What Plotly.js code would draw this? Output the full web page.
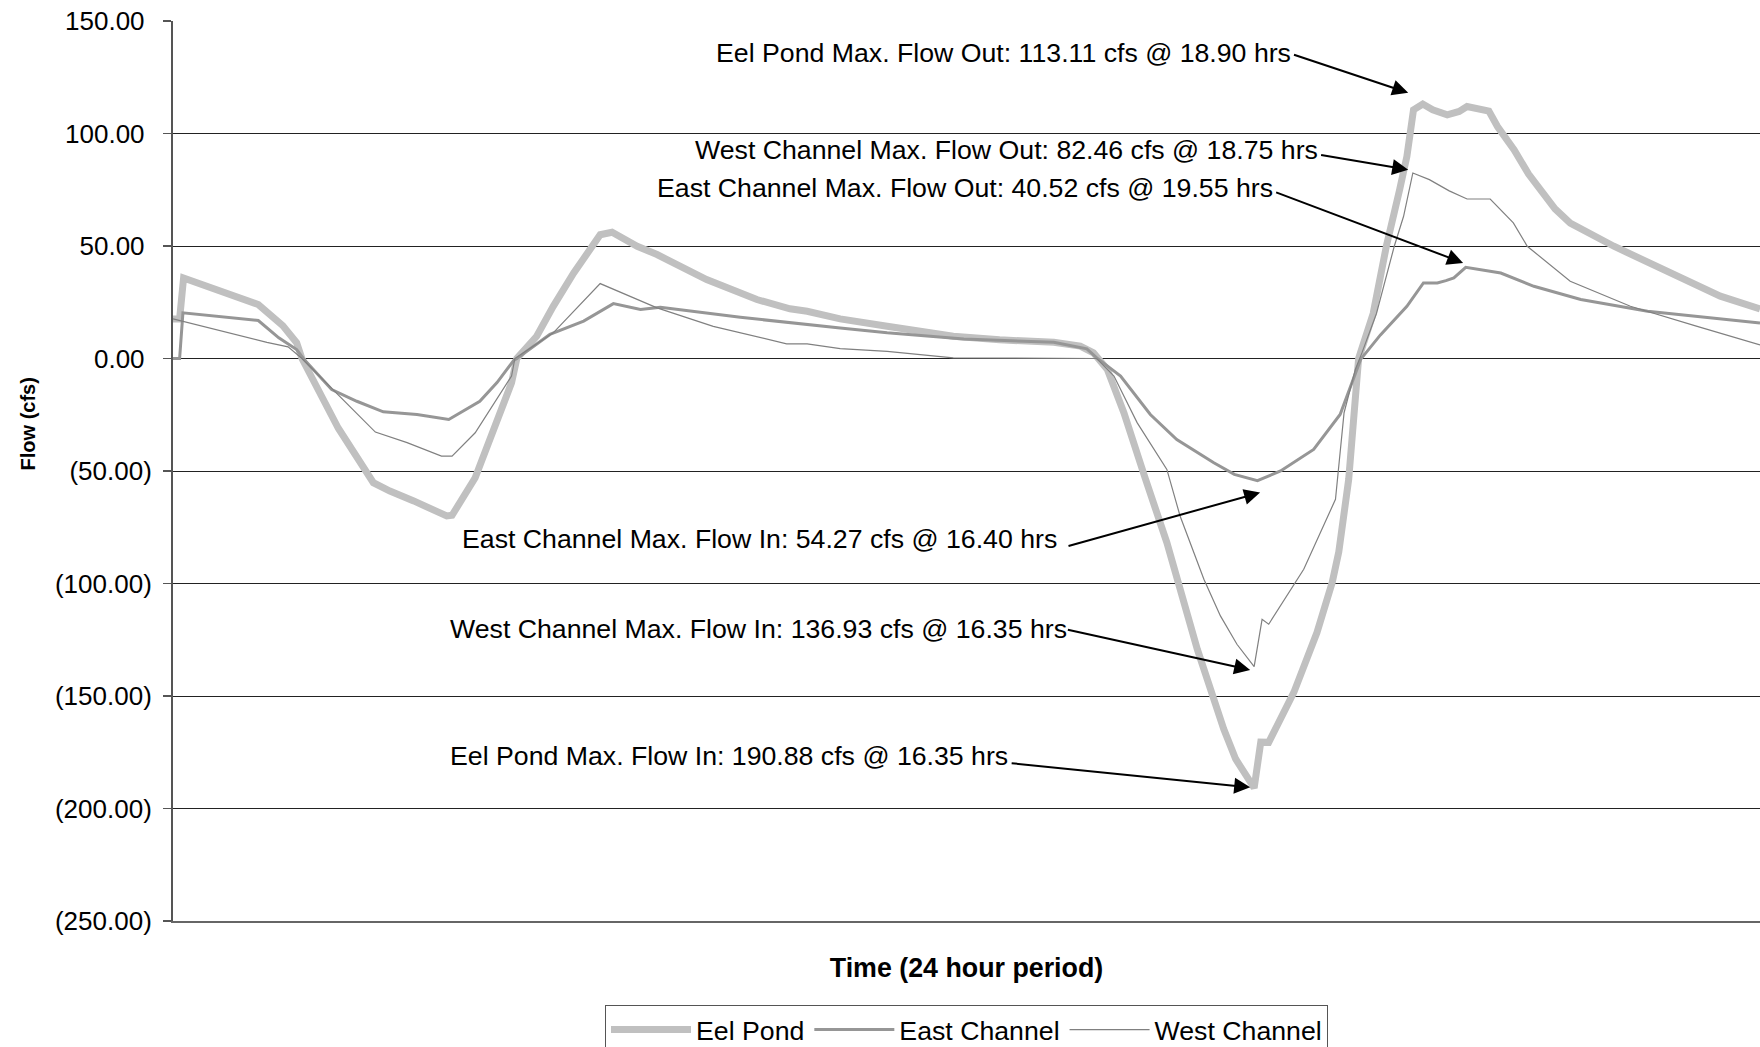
<!DOCTYPE html>
<html>
<head>
<meta charset="utf-8">
<script src="https://cdn.plot.ly/plotly-3.0.1.min.js"></script>
<style>html,body{margin:0;padding:0;background:#fff;}#chart{width:1760px;height:1047px;}</style>
</head>
<body>
<div id="chart"></div>
<script>
// ---- Data (time in hours, flow in cfs) ----
const eelTime = [0.00,0.10,0.16,0.66,1.29,1.66,1.87,1.95,2.50,3.03,3.28,3.64,4.14,4.22,4.57,5.12,5.20,5.50,5.75,6.06,6.46,6.64,7.02,7.32,8.07,8.83,9.33,9.59,10.09,10.80,11.80,12.50,13.32,13.72,13.92,14.13,14.38,14.70,15.03,15.49,15.89,16.07,16.35,16.45,16.57,16.95,17.30,17.53,17.63,17.78,17.88,17.93,18.15,18.35,18.55,18.66,18.76,18.90,19.05,19.27,19.45,19.57,19.90,20.03,20.28,20.50,20.90,21.13,21.79,22.80,23.40,24.00];
const eelFlow = [17.6,17.6,35.8,30.6,24.0,14.6,7.0,0.0,-31.0,-55.2,-58.9,-63.3,-70.0,-69.7,-53.0,-10.8,0.0,9.9,23.2,38.0,55.0,56.1,49.9,46.2,35.1,26.2,22.1,21.0,17.6,14.3,9.9,8.3,7.2,5.5,2.5,-4.9,-24.1,-53.0,-81.8,-129.2,-164.7,-178.0,-190.88,-170.5,-170.6,-148.4,-121.8,-99.6,-86.0,-53.7,-16.7,0.0,20.0,50.0,75.0,89.8,110.5,113.11,110.5,108.3,109.8,112.0,110.0,103.1,92.8,82.0,66.5,60.2,49.9,36.5,27.7,22.0];

const eastTime = [0.00,0.10,0.15,1.29,1.60,1.87,1.97,2.40,2.78,3.18,3.69,4.17,4.64,4.90,5.15,5.20,5.70,6.21,6.66,7.07,7.37,8.58,10.09,10.80,11.96,13.32,13.82,13.97,14.33,14.78,15.18,15.74,16.05,16.40,16.75,17.25,17.65,17.96,18.26,18.66,18.91,19.12,19.25,19.37,19.55,20.08,20.58,21.29,22.30,24.00];
const eastFlow = [0.0,0.0,20.3,16.9,9.2,4.0,0.0,-13.8,-19.0,-23.7,-24.9,-27.1,-19.0,-10.7,-0.9,0.0,10.7,16.6,24.4,21.8,22.8,18.3,13.6,11.4,8.7,7.2,4.3,0.3,-7.8,-24.9,-36.0,-46.3,-51.5,-54.27,-50.0,-40.4,-24.9,-0.4,10.5,23.2,33.6,33.6,34.6,35.8,40.52,38.0,32.1,26.2,21.0,15.8];

const westTime = [0.00,1.42,1.74,1.95,3.06,3.54,4.06,4.22,4.57,5.12,5.17,5.75,6.46,7.32,8.17,9.28,9.59,10.09,10.80,11.80,13.97,14.23,14.58,15.03,15.23,15.59,15.84,16.09,16.35,16.47,16.57,17.10,17.58,17.71,17.88,17.98,18.20,18.33,18.47,18.61,18.75,19.00,19.30,19.57,19.92,20.27,20.48,21.13,22.04,23.05,24.00];
const westFlow = [17.6,7.2,5.2,0.0,-32.7,-37.4,-43.4,-43.4,-33.0,-7.8,0.0,11.4,33.3,22.5,14.3,6.5,6.5,4.4,3.2,0.3,0.0,-7.8,-28.5,-49.3,-70.0,-98.1,-114.4,-127.0,-136.93,-115.9,-118.1,-93.7,-62.6,-24.1,-4.9,2.5,20.0,35.0,50.0,63.2,82.46,79.5,74.5,70.9,70.9,60.3,49.9,34.3,23.2,14.3,6.0];

const seriesNames = ["Eel Pond","East Channel","West Channel"];

// Y-axis tick values and labels (accounting style)
const yTickVals = [150,100,50,0,-50,-100,-150,-200,-250];
const yTickText = ["150.00\u00a0","100.00\u00a0","50.00\u00a0","0.00\u00a0","(50.00)","(100.00)","(150.00)","(200.00)","(250.00)"];

// Peak annotations (values quoted in the chart)
const annSeries = ["Eel Pond","West Channel","East Channel","East Channel","West Channel","Eel Pond"];
const annKind   = ["Out","Out","Out","In","In","In"];
const annFlow   = [113.11,82.46,40.52,54.27,136.93,190.88];
const annHours  = [18.90,18.75,19.55,16.40,16.35,16.35];

// Annotation layout positions (data units)
const annTextX  = [16.93,17.34,16.66,13.40,13.55,12.66];
const annTextY  = [135.8,92.6,75.6,-80.4,-120.4,-176.5];
const arrowFromX = [16.93,17.34,16.66,13.52,13.51,12.66];
const arrowFromY = [135.2,90.6,74.1,-83.5,-120.4,-179.8];
const arrowToX   = [18.68,18.68,19.51,16.44,16.29,16.29];
const arrowToY   = [118.1,83.9,42.5,-59.6,-138.4,-190.6];

const FONT = "Liberation Sans, Arial, Helvetica, sans-serif";
const TXT = 26.7;

const traces = [
  {x: eelTime, y: eelFlow, name: seriesNames[0], type: "scatter", mode: "lines",
   line: {color: "#c0c0c0", width: 7, shape: "linear"}},
  {x: eastTime, y: eastFlow, name: seriesNames[1], type: "scatter", mode: "lines",
   line: {color: "#969696", width: 3, shape: "linear"}},
  {x: westTime, y: westFlow, name: seriesNames[2], type: "scatter", mode: "lines",
   line: {color: "#808080", width: 1.2, shape: "linear"}}
];

const annotations = [];
for (let i = 0; i < annSeries.length; i++) {
  annotations.push({
    xref: "x", yref: "y", x: arrowToX[i], y: arrowToY[i],
    axref: "x", ayref: "y", ax: arrowFromX[i], ay: arrowFromY[i],
    text: "", showarrow: true, arrowhead: 2, arrowsize: 1.6, arrowwidth: 2,
    arrowcolor: "#000000"
  });
  annotations.push({
    xref: "x", yref: "y", x: annTextX[i], y: annTextY[i],
    xanchor: "right", yanchor: "middle", showarrow: false,
    text: annSeries[i] + " Max. Flow " + annKind[i] + ": " + annFlow[i].toFixed(2) +
          " cfs @ " + annHours[i].toFixed(2) + " hrs",
    font: {family: FONT, size: TXT, color: "#000000"}
  });
}

const layout = {
  width: 1760, height: 1047,
  paper_bgcolor: "#ffffff", plot_bgcolor: "#ffffff",
  margin: {l: 173, r: 0, t: 21, b: 126, pad: 0, autoexpand: false},
  font: {family: FONT, size: TXT, color: "#000000"},
  showlegend: true,
  legend: {
    orientation: "h", x: 0.5, xanchor: "center", y: -0.093, yanchor: "top",
    bordercolor: "#555555", borderwidth: 1, bgcolor: "#ffffff",
    font: {family: FONT, size: TXT, color: "#000000"}, itemwidth: 80,
    traceorder: "normal"
  },
  xaxis: {
    range: [0, 24], showticklabels: false, ticks: "", showgrid: false, zeroline: false,
    showline: true, linecolor: "#666666", linewidth: 2, fixedrange: true,
    title: {text: "<b>Time (24 hour period)</b>", font: {family: FONT, size: 26.8, color: "#000000"}, standoff: 36}
  },
  yaxis: {
    range: [-250, 150], tickmode: "array", tickvals: yTickVals, ticktext: yTickText,
    ticks: "outside", ticklen: 8, tickwidth: 1.5, tickcolor: "#555555",
    showline: true, linecolor: "#555555", linewidth: 2,
    showgrid: true, gridcolor: "#222222", gridwidth: 1, zeroline: false,
    tickfont: {family: FONT, size: 26, color: "#000000"}, ticklabelstandoff: 6,
    fixedrange: true,
    title: {text: "<b>" + "\u00a0".repeat(17) + "Flow (cfs)</b>", font: {family: FONT, size: 20, color: "#000000"}, standoff: 14}
  },
  annotations: annotations
};

Plotly.newPlot("chart", traces, layout, {displayModeBar: false, staticPlot: true});
</script>
</body>
</html>
